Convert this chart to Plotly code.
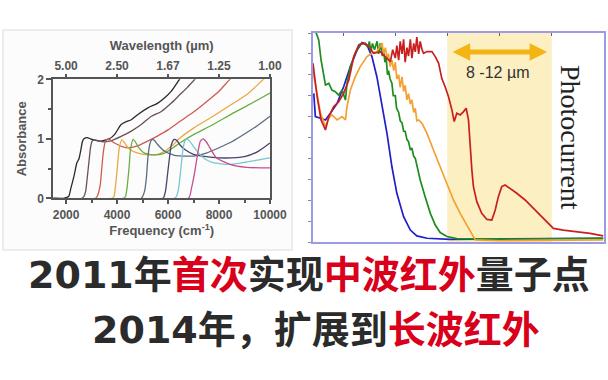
import plotly.graph_objects as go

# ---------------- Left panel: absorbance vs frequency ----------------
freq_black = [1500, 1900, 2100, 2190, 2320, 2420, 2510, 2580, 2640, 2700, 2830, 2960, 3090, 3350, 3550, 3700, 3900, 4160, 4360, 4560, 4820, 5210, 5600, 5870, 6130, 6450, 6800]
abs_black = [0, 0, 0.03, 0.17, 0.39, 0.59, 0.67, 0.81, 0.95, 1.0, 1.02, 1.0, 0.98, 0.96, 0.98, 1.0, 1.07, 1.24, 1.29, 1.32, 1.41, 1.52, 1.60, 1.69, 1.80, 2.0, 2.2]

freq_brown = [1500, 2620, 2700, 2770, 2830, 2900, 2960, 3020, 3090, 3250, 3450, 3700, 3900, 4160, 4560, 4950, 5350, 5740, 6130, 6460, 6750, 7050, 7400]
abs_brown = [0, 0, 0.03, 0.12, 0.34, 0.62, 0.85, 0.96, 0.98, 0.97, 0.95, 0.96, 0.99, 1.04, 1.13, 1.24, 1.38, 1.46, 1.60, 1.74, 1.86, 2.0, 2.15]

freq_red = [1500, 3150, 3220, 3340, 3400, 3470, 3540, 3640, 3760, 3900, 4200, 4500, 4800, 5200, 5600, 6000, 6460, 7000, 7500, 8000, 8430, 9000]
abs_red = [0, 0, 0.03, 0.22, 0.50, 0.80, 0.95, 1.0, 0.97, 0.93, 0.87, 0.85, 0.88, 0.96, 1.05, 1.15, 1.29, 1.45, 1.62, 1.80, 2.0, 2.2]

freq_orange = [1500, 3800, 3880, 3930, 4010, 4090, 4190, 4300, 4430, 4620, 4820, 5210, 5600, 5900, 6200, 6460, 7000, 7770, 8500, 9080, 9670, 10000]
abs_orange = [0, 0, 0.03, 0.17, 0.51, 0.85, 0.98, 0.93, 0.85, 0.79, 0.76, 0.73, 0.74, 0.80, 0.90, 1.01, 1.18, 1.38, 1.58, 1.74, 1.97, 2.1]

freq_green = [1500, 4250, 4330, 4390, 4470, 4530, 4630, 4720, 4820, 5080, 5470, 5870, 6200, 6460, 7000, 7770, 8500, 9080, 10000]
abs_green = [0, 0, 0.03, 0.17, 0.51, 0.82, 0.99, 0.95, 0.87, 0.76, 0.73, 0.76, 0.85, 0.93, 1.07, 1.24, 1.42, 1.55, 1.77]

freq_slate = [1500, 4950, 5080, 5150, 5210, 5280, 5370, 5470, 5600, 5870, 6260, 6600, 7000, 7500, 8000, 8500, 9000, 9500, 10000]
abs_slate = [0, 0, 0.12, 0.34, 0.68, 0.90, 0.99, 0.97, 0.90, 0.79, 0.72, 0.71, 0.71, 0.76, 0.85, 0.95, 1.08, 1.22, 1.38]

freq_navy = [1500, 5800, 5900, 5980, 6070, 6130, 6240, 6350, 6460, 6660, 7000, 7500, 8000, 8500, 9000, 9500, 10000]
abs_navy = [0, 0, 0.12, 0.40, 0.73, 0.90, 0.99, 0.97, 0.90, 0.82, 0.74, 0.70, 0.68, 0.68, 0.70, 0.78, 0.93]

freq_cyan = [1500, 6250, 6330, 6420, 6500, 6580, 6650, 6740, 6850, 7000, 7200, 7450, 7770, 8400, 9080, 10000]
abs_cyan = [0, 0, 0.03, 0.18, 0.48, 0.80, 0.95, 1.0, 0.96, 0.87, 0.76, 0.66, 0.60, 0.57, 0.61, 0.68]

freq_magenta = [1500, 6800, 6920, 7050, 7180, 7270, 7380, 7500, 7640, 7900, 8430, 9080, 10000]
abs_magenta = [0, 0, 0.17, 0.45, 0.79, 0.96, 1.0, 0.95, 0.85, 0.68, 0.57, 0.52, 0.51]

freq_ticks = [2000, 4000, 6000, 8000, 10000]
freq_labels = ["2000", "4000", "6000", "8000", "10000"]
wavelength_labels = ["5.00", "2.50", "1.67", "1.25", "1.00"]

# ---------------- Right panel: photocurrent vs wavelength (um) ----------------
wl_blue = [2.86, 2.92, 3.12, 3.31, 3.50, 3.76, 4.01, 4.27, 4.53, 4.72, 4.91, 5.10, 5.29, 5.49, 5.68, 5.87, 6.06, 6.32, 6.58, 6.83, 7.22, 8.12, 10.04, 14.01]
pc_blue = [0.711, 0.600, 0.592, 0.584, 0.616, 0.663, 0.743, 0.839, 0.919, 0.954, 0.943, 0.887, 0.791, 0.648, 0.520, 0.360, 0.233, 0.121, 0.057, 0.029, 0.018, 0.013, 0.014, 0.018]

wl_green = [2.92, 3.05, 3.14, 3.24, 3.31, 3.44, 3.56, 3.69, 3.82, 3.95, 4.08, 4.14, 4.27, 4.46, 4.65, 4.85,
            4.95, 5.00, 5.06, 5.12, 5.20, 5.30, 5.36, 5.42, 5.50, 5.55, 5.60, 5.65, 5.70, 5.74, 5.80, 5.87,
            5.92, 6.00, 6.05, 6.13, 6.19, 6.26, 6.32, 6.38, 6.45, 6.51, 6.58, 6.64, 6.71, 6.77, 6.85,
            6.96, 7.15, 7.35, 7.54, 7.73, 7.99, 8.37, 10.04, 14.01]
pc_green = [1.01, 0.967, 0.871, 0.791, 0.751, 0.759, 0.727, 0.719, 0.703, 0.727, 0.679, 0.759, 0.839, 0.903, 0.947, 0.951,
            0.93, 0.96, 0.91, 0.95, 0.92, 0.96, 0.90, 0.95, 0.89, 0.92, 0.86, 0.88, 0.80, 0.82, 0.78, 0.76,
            0.70, 0.70, 0.64, 0.62, 0.58, 0.57, 0.53, 0.53, 0.49, 0.48, 0.44, 0.45, 0.41, 0.40, 0.35,
            0.297, 0.217, 0.137, 0.081, 0.045, 0.026, 0.016, 0.014, 0.018]

wl_orange = [2.83, 2.99, 3.12, 3.31, 3.44, 3.56, 3.76, 3.95, 4.08, 4.14, 4.27, 4.46, 4.65, 4.91, 5.10, 5.29, 5.40, 5.49,
             5.55, 5.62, 5.68, 5.74, 5.80, 5.87, 5.94, 6.00, 6.06, 6.13, 6.19, 6.26, 6.32, 6.38, 6.45, 6.51, 6.58, 6.64,
             6.71, 6.77, 6.83, 6.90, 7.03, 7.22, 7.47, 7.73, 7.99, 8.24, 8.50, 8.76, 8.95, 9.08, 10.04, 14.01]
pc_orange = [0.815, 0.695, 0.616, 0.552, 0.592, 0.608, 0.584, 0.600, 0.584, 0.648, 0.727, 0.791, 0.839, 0.887, 0.903, 0.911, 0.93, 0.951,
             0.90, 0.93, 0.88, 0.90, 0.84, 0.87, 0.82, 0.86, 0.78, 0.80, 0.74, 0.79, 0.72, 0.75, 0.68, 0.71, 0.66, 0.68,
             0.62, 0.64, 0.58, 0.584, 0.568, 0.520, 0.440, 0.360, 0.281, 0.201, 0.137, 0.081, 0.033, 0.010, 0.006, 0.010]

wl_red = [2.83, 2.99, 3.14, 3.31, 3.44, 3.63, 3.82, 4.01, 4.21, 4.40, 4.59, 4.78, 4.97, 5.17, 5.42, 5.62, 5.81,
          5.90, 6.00, 6.06, 6.13, 6.19, 6.26, 6.32, 6.38, 6.45, 6.51, 6.58, 6.64, 6.71, 6.77, 6.83, 6.90, 6.96, 7.03,
          7.09, 7.22, 7.41, 7.54, 7.67, 7.79, 7.92, 8.05, 8.18, 8.27, 8.37, 8.50, 8.63, 8.73, 8.82, 8.88, 8.95, 9.01,
          9.14, 9.33, 9.53, 9.72, 9.85, 9.97, 10.10, 10.23, 10.42, 10.68, 11.00, 11.32, 11.64, 11.90, 12.09, 12.47,
          12.99, 13.50, 14.01]
pc_red = [0.855, 0.695, 0.584, 0.536, 0.600, 0.648, 0.671, 0.711, 0.775, 0.887, 0.943, 0.951, 0.935, 0.903, 0.911, 0.887, 0.863,
          0.92, 0.88, 0.94, 0.87, 0.96, 0.90, 0.97, 0.86, 0.93, 0.89, 0.97, 0.88, 0.95, 0.91, 0.98, 0.90, 0.96, 0.92,
          0.903, 0.911, 0.911, 0.887, 0.855, 0.783, 0.743, 0.695, 0.632, 0.576, 0.616, 0.608, 0.624, 0.640, 0.584, 0.456, 0.344, 0.265,
          0.193, 0.137, 0.108, 0.105, 0.153, 0.217, 0.265, 0.273, 0.257, 0.233, 0.201, 0.161, 0.121, 0.089, 0.065, 0.057,
          0.049, 0.041, 0.029]

band_um = [8.0, 12.03]

title_line1 = "2011年<span style='color:#d9001b'>首次</span>实现<span style='color:#d9001b'>中波红外</span>量子点"
title_line2 = "2014年，扩展到<span style='color:#d9001b'>长波红外</span>"

# ---------------- Figure ----------------
W, H = 608, 380
def px_x(p):
    return p / W
def px_y(p):
    return 1 - p / H

fig = go.Figure()

left_series = [
    (freq_black, abs_black, "#2a2a2a"),
    (freq_brown, abs_brown, "#6a5252"),
    (freq_red, abs_red, "#cf5a55"),
    (freq_orange, abs_orange, "#eaa845"),
    (freq_green, abs_green, "#6aae45"),
    (freq_slate, abs_slate, "#5a6a80"),
    (freq_navy, abs_navy, "#45456e"),
    (freq_cyan, abs_cyan, "#78c8d0"),
    (freq_magenta, abs_magenta, "#c4508e"),
]
for fx, fy, col in left_series:
    fig.add_trace(go.Scatter(x=fx, y=fy, mode="lines", xaxis="x", yaxis="y",
                             line=dict(color=col, width=1.3, shape="spline", smoothing=0.6),
                             showlegend=False, hoverinfo="skip"))
# invisible trace to carry the top (wavelength) axis
fig.add_trace(go.Scatter(x=[freq_ticks[0], freq_ticks[-1]], y=[0, 0], mode="lines", xaxis="x3", yaxis="y",
                         line=dict(width=0), showlegend=False, hoverinfo="skip"))

right_series = [
    (wl_blue, pc_blue, "#2020c8"),
    (wl_green, pc_green, "#1e8c1e"),
    (wl_orange, pc_orange, "#f5a032"),
    (wl_red, pc_red, "#c82020"),
]
for wx, wy, col in right_series:
    fig.add_trace(go.Scatter(x=wx, y=wy, mode="lines", xaxis="x2", yaxis="y2",
                             line=dict(color=col, width=1.7),
                             showlegend=False, hoverinfo="skip"))

axis_font = dict(family="Liberation Sans, Arial", size=12, color="#555555", weight="bold")
title_font = dict(family="Liberation Sans, Arial", size=13, color="#555555", weight="bold")

fig.update_layout(
    template="none",
    width=W, height=H,
    margin=dict(l=0, r=0, t=0, b=0, pad=0),
    paper_bgcolor="white",
    plot_bgcolor="rgba(0,0,0,0)",
    hovermode=False,
    xaxis=dict(domain=[px_x(53.3), px_x(270)], range=[1500, 10000], anchor="y", automargin=False,
               tickvals=freq_ticks, ticktext=freq_labels, ticks="outside", ticklen=4, tickwidth=1.5, tickcolor="#555555",
               minor=dict(tickvals=[3000, 5000, 7000, 9000], ticks="outside", ticklen=3, tickcolor="#555555"),
               showline=True, linecolor="#555555", linewidth=2, mirror=True,
               showgrid=False, zeroline=False, tickfont=axis_font,
               title=dict(text="Frequency (cm<sup>-1</sup>)", font=title_font, standoff=4)),
    xaxis3=dict(overlaying="x", side="top", anchor="y", range=[1500, 10000], automargin=False,
                tickvals=freq_ticks, ticktext=wavelength_labels,
                ticks="outside", ticklen=4, tickwidth=1.5, tickcolor="#555555",
                showline=False, showgrid=False, zeroline=False, tickfont=axis_font,
                title=dict(text="Wavelength (µm)", font=title_font, standoff=4)),
    yaxis=dict(domain=[px_y(198.3), px_y(79.3)], range=[0, 2], anchor="x", automargin=False,
               tickvals=[0, 1, 2], ticks="outside", ticklen=5, tickwidth=1.5, tickcolor="#555555",
               minor=dict(tickvals=[0.5, 1.5], ticks="outside", ticklen=3, tickcolor="#555555"),
               showline=True, linecolor="#555555", linewidth=2, mirror=True,
               showgrid=False, zeroline=False, tickfont=axis_font,
               title=dict(text="Absorbance", font=title_font, standoff=8)),
    xaxis2=dict(domain=[px_x(313), px_x(604)], range=[2.83, 14.04], anchor="y2", side="top", automargin=False,
                tickvals=[4, 6, 8, 10, 12], ticks="inside", ticklen=3, tickcolor="#666666",
                showticklabels=False, showline=True, linecolor="#9c9ce6", linewidth=1.5, mirror=True,
                showgrid=False, zeroline=False),
    yaxis2=dict(domain=[px_y(242), px_y(33)], range=[0, 1.0], anchor="x2", automargin=False,
                dtick=0.1, ticks="outside", ticklen=3, tickcolor="#888888",
                showticklabels=False, showline=True, linecolor="#9c9ce6", linewidth=1.5, mirror=True,
                showgrid=False, zeroline=False),
)

# panel backgrounds
fig.add_shape(type="rect", xref="paper", yref="paper", x0=px_x(3), x1=px_x(292), y0=px_y(250), y1=px_y(30),
              fillcolor="#fcfcfc", line=dict(color="#ececec", width=2), layer="below")
fig.add_shape(type="rect", xref="paper", yref="paper", x0=px_x(303), x1=px_x(608), y0=px_y(253), y1=px_y(22),
              fillcolor="white", line=dict(width=0), layer="below")
# 8-12 um band
fig.add_shape(type="rect", xref="x2", yref="y2", x0=band_um[0], x1=band_um[1], y0=0, y1=1.0,
              fillcolor="#fcefc2", line=dict(width=0), layer="below")

# double-headed arrow
fig.add_annotation(x=11.85, y=0.909, ax=8.15, ay=0.909, xref="x2", yref="y2", axref="x2", ayref="y2",
                   text="", showarrow=True, arrowhead=2, arrowsize=0.7, arrowwidth=5,
                   arrowside="end+start", arrowcolor="#f3b414", standoff=0, startstandoff=0)
fig.add_annotation(x=9.92, y=0.81, xref="x2", yref="y2", text="8 -12 µm", showarrow=False,
                   xanchor="center", yanchor="middle",
                   font=dict(family="Liberation Sans, Arial", size=16, color="#333333"))
fig.add_annotation(x=px_x(571), y=px_y(137), xref="paper", yref="paper", text="Photocurrent",
                   showarrow=False, textangle=90, xanchor="center", yanchor="middle",
                   font=dict(family="Liberation Serif, Times New Roman, serif", size=28, color="#222222"))

# Chinese captions
cap_font = dict(family="DejaVu Sans, Noto Sans CJK SC", size=38, color="#2b2b2b", weight="bold")
fig.add_annotation(x=px_x(309), y=px_y(275), xref="paper", yref="paper", text=title_line1,
                   showarrow=False, xanchor="center", yanchor="middle", font=cap_font)
fig.add_annotation(x=px_x(316), y=px_y(330), xref="paper", yref="paper", text=title_line2,
                   showarrow=False, xanchor="center", yanchor="middle", font=cap_font)

fig.write_html("out.html", config={"displayModeBar": False},
               post_script="document.body.style.margin='0px';")
